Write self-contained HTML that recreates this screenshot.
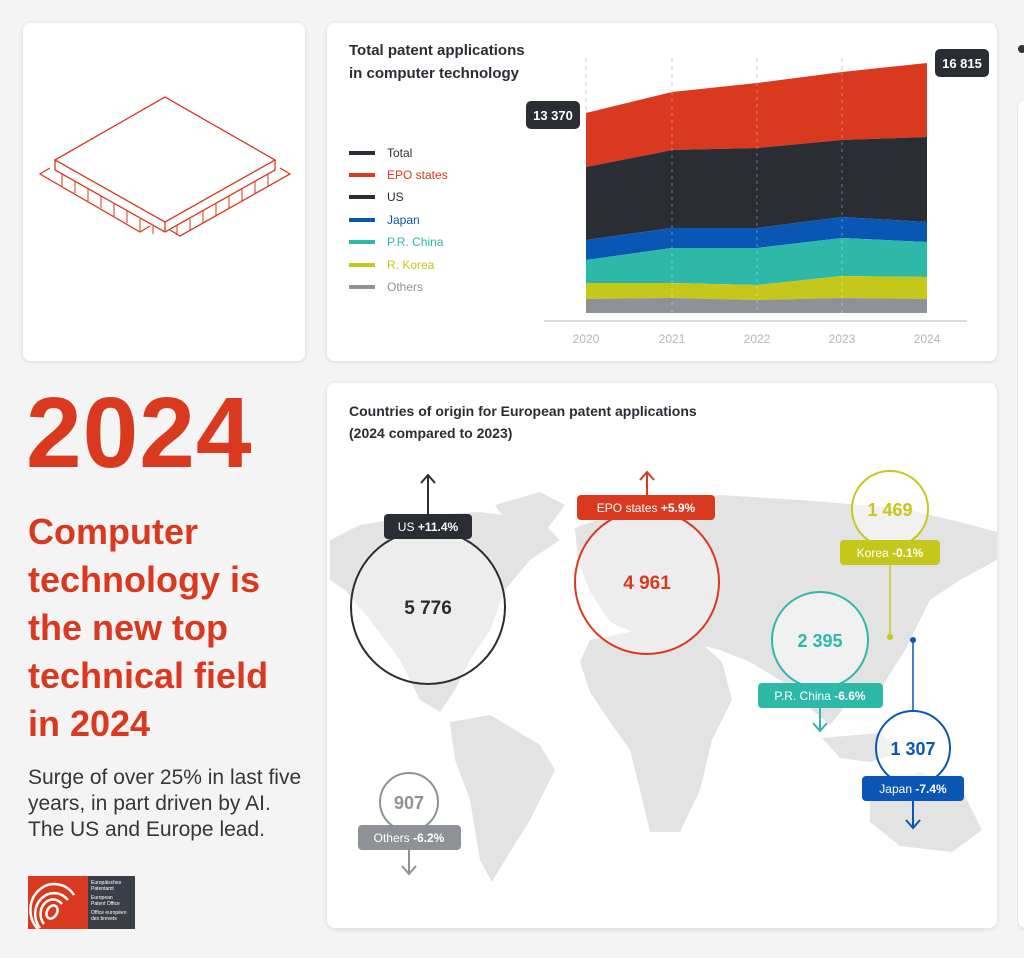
<!DOCTYPE html>
<html><head><meta charset="utf-8"><style>
html,body{margin:0;padding:0;background:#f3f3f3;}
body{width:1024px;height:953px;overflow:hidden;font-family:"Liberation Sans",sans-serif;}
</style></head><body>
<svg width="1024" height="953" viewBox="0 0 1024 953" xmlns="http://www.w3.org/2000/svg" font-family="Liberation Sans, sans-serif">
<defs><filter id="sh" x="-5%" y="-5%" width="110%" height="110%"><feDropShadow dx="0" dy="1" stdDeviation="2" flood-color="#000" flood-opacity="0.12"/></filter></defs>
<rect width="1024" height="953" fill="#f4f4f4"/>
<rect x="23" y="23" width="282" height="338" rx="8" fill="#fff" filter="url(#sh)"/>
<rect x="327" y="23" width="670" height="338" rx="8" fill="#fff" filter="url(#sh)"/>
<rect x="327" y="383" width="670" height="545" rx="8" fill="#fff" filter="url(#sh)"/>
<rect x="1018" y="100" width="20" height="828" rx="8" fill="#fff" filter="url(#sh)"/>
<circle cx="1022" cy="49" r="4" fill="#333"/>

<!-- chip -->
<g fill="none" stroke="#d9391e" stroke-width="1.3">
<polygon points="55,160 165,97 275,160 165,222"/>
<polyline points="55,160 55,170 165,232 275,170 275,160"/>
<line x1="165" y1="222" x2="165" y2="232"/>
<path d="M50,168 l-10,6 l100,58 l10,-6" />
<path d="M280,168 l10,6 l-110,62 l-10,-6"/>
<g stroke-width="1">
<path d="M62,174 v12 M75,181 v12 M88,189 v12 M101,196 v12 M114,204 v12 M127,211 v12 M140,219 v12 M153,226 v8"/>
<path d="M268,174 v12 M255,181 v12 M242,189 v12 M229,196 v12 M216,204 v12 M203,211 v12 M190,219 v12 M177,226 v8"/>
</g>
</g>

<!-- area chart -->
<text x="349" y="55" font-size="15" font-weight="bold" fill="#2a2d33">Total patent applications</text>
<text x="349" y="78" font-size="15" font-weight="bold" fill="#2a2d33">in computer technology</text>
<g font-size="12">
<rect x="349" y="151" width="26" height="4" fill="#2a2d33"/><text x="387" y="157" fill="#2a2d33">Total</text>
<rect x="349" y="173" width="26" height="4" fill="#d9391e"/><text x="387" y="179" fill="#d9391e">EPO states</text>
<rect x="349" y="195" width="26" height="4" fill="#2a2d33"/><text x="387" y="201" fill="#2a2d33">US</text>
<rect x="349" y="218" width="26" height="4" fill="#0a56b5"/><text x="387" y="224" fill="#0a56b5">Japan</text>
<rect x="349" y="240" width="26" height="4" fill="#2eb8a8"/><text x="387" y="246" fill="#2eb8a8">P.R. China</text>
<rect x="349" y="263" width="26" height="4" fill="#c5c81a"/><text x="387" y="269" fill="#c5c81a">R. Korea</text>
<rect x="349" y="285" width="26" height="4" fill="#8e9196"/><text x="387" y="291" fill="#8e9196">Others</text>
</g>
<polygon fill="#d9391e" points="586,113 672,92 757,83 842,72 927,63 927,137 842,140 757,148 672,150 586,167"/>
<polygon fill="#2a2d33" points="586,167 672,150 757,148 842,140 927,137 927,222 842,217 757,228 672,228 586,240"/>
<polygon fill="#0a56b5" points="586,240 672,228 757,228 842,217 927,222 927,242 842,238 757,248 672,248 586,260"/>
<polygon fill="#2eb8a8" points="586,260 672,248 757,248 842,238 927,242 927,277 842,276 757,285 672,283 586,283"/>
<polygon fill="#c5c81a" points="586,283 672,283 757,285 842,276 927,277 927,299 842,298 757,300 672,298 586,299"/>
<polygon fill="#8e9196" points="586,299 672,298 757,300 842,298 927,299 927,313 586,313"/>
<g stroke="#ccc" stroke-dasharray="4,4" stroke-width="1">
<line x1="586" y1="58" x2="586" y2="113"/><line x1="672" y1="58" x2="672" y2="92"/><line x1="757" y1="58" x2="757" y2="83"/><line x1="842" y1="58" x2="842" y2="72"/>
</g>
<g stroke="#fff" stroke-opacity="0.35" stroke-dasharray="3,4"><line x1="672" y1="92" x2="672" y2="313"/><line x1="757" y1="83" x2="757" y2="313"/><line x1="842" y1="72" x2="842" y2="313"/></g>
<line x1="544" y1="321" x2="967" y2="321" stroke="#ddd" stroke-width="2"/>
<g font-size="12" fill="#b5b5b5" text-anchor="middle">
<text x="586" y="343">2020</text><text x="672" y="343">2021</text><text x="757" y="343">2022</text><text x="842" y="343">2023</text><text x="927" y="343">2024</text>
</g>
<rect x="526" y="101" width="54" height="28" rx="5" fill="#2a2d33"/><text x="553" y="120" font-size="13" font-weight="bold" fill="#fff" text-anchor="middle">13 370</text>
<rect x="935" y="49" width="54" height="28" rx="5" fill="#2a2d33"/><text x="962" y="68" font-size="13" font-weight="bold" fill="#fff" text-anchor="middle">16 815</text>

<!-- left texts -->
<text x="26" y="467" font-size="100" font-weight="bold" fill="#d9391e" letter-spacing="1">2024</text>
<g font-size="36" font-weight="bold" fill="#d9391e">
<text x="28" y="544">Computer</text>
<text x="28" y="592">technology is</text>
<text x="28" y="640">the new top</text>
<text x="28" y="688">technical field</text>
<text x="28" y="736">in 2024</text>
</g>
<g font-size="21" fill="#33363b">
<text x="28" y="784">Surge of over 25% in last five</text>
<text x="28" y="810">years, in part driven by AI.</text>
<text x="28" y="836">The US and Europe lead.</text>
</g>
<rect x="28" y="876" width="60" height="53" fill="#d9391e"/>
<rect x="88" y="876" width="47" height="53" fill="#3a3f47"/>
<g fill="none" stroke="#fff" stroke-width="2.5"><ellipse cx="52" cy="912" rx="5" ry="7" transform="rotate(30 52 912)"/><path d="M44,924 a12,14 0 1 1 18,-20"/><path d="M40,928 a18,20 0 1 1 28,-28"/><path d="M38,929 a24,26 0 1 1 36,-34"/></g>
<g font-size="5" fill="#fff"><text x="91" y="884">Europäisches</text><text x="91" y="890">Patentamt</text><text x="91" y="899">European</text><text x="91" y="905">Patent Office</text><text x="91" y="914">Office européen</text><text x="91" y="920">des brevets</text></g>

<!-- map -->
<text x="349" y="416" font-size="14" font-weight="bold" fill="#2a2d33">Countries of origin for European patent applications</text>
<text x="349" y="438" font-size="14" font-weight="bold" fill="#2a2d33">(2024 compared to 2023)</text>
<g fill="#e3e3e3">
<polygon points="330,540 360,525 420,515 480,512 540,520 560,540 530,560 505,590 490,630 470,660 455,690 440,712 420,700 400,660 370,620 345,590 330,580"/>
<polygon points="495,505 540,492 565,505 545,532 510,527"/>
<polygon points="450,722 490,715 540,745 555,770 530,820 505,860 492,882 480,860 470,800 455,760"/>
<polygon points="575,528 640,505 720,495 800,500 900,508 960,522 997,532 997,560 960,580 930,600 905,650 880,690 850,700 830,725 800,700 780,680 750,662 720,650 690,642 650,640 610,622 590,592 578,560"/>
<polygon points="590,640 640,630 700,642 722,662 732,700 712,740 700,790 680,832 650,832 640,790 630,750 610,722 590,692 580,662"/>
<polygon points="870,790 920,772 962,790 982,830 952,852 900,846 870,822"/>
<polygon points="822,738 880,733 902,752 870,762 840,758"/>
</g>
<!-- US -->
<circle cx="428" cy="607" r="77" fill="#fff" fill-opacity="0.35" stroke="#2a2d33" stroke-width="2"/>
<line x1="428" y1="476" x2="428" y2="530" stroke="#2a2d33" stroke-width="2"/><path d="M421,483 l7,-8 l7,8" fill="none" stroke="#2a2d33" stroke-width="2"/>
<rect x="384" y="514" width="88" height="25" rx="4" fill="#2a2d33"/>
<text x="428" y="531" font-size="12" fill="#fff" text-anchor="middle">US  <tspan font-weight="bold">+11.4%</tspan></text>
<text x="428" y="614" font-size="19" font-weight="bold" fill="#2a2d33" text-anchor="middle">5 776</text>
<!-- EPO -->
<circle cx="647" cy="582" r="72" fill="#fff" fill-opacity="0.35" stroke="#d9391e" stroke-width="2"/>
<line x1="647" y1="472" x2="647" y2="510" stroke="#d9391e" stroke-width="2"/><path d="M640,480 l7,-8 l7,8" fill="none" stroke="#d9391e" stroke-width="2"/>
<rect x="577" y="495" width="138" height="25" rx="4" fill="#d9391e"/>
<text x="646" y="512" font-size="12" fill="#fff" text-anchor="middle">EPO states  <tspan font-weight="bold">+5.9%</tspan></text>
<text x="647" y="589" font-size="19" font-weight="bold" fill="#d9391e" text-anchor="middle">4 961</text>
<!-- Korea -->
<circle cx="890" cy="509" r="38" fill="#fff" fill-opacity="0.5" stroke="#c5c81a" stroke-width="2"/>
<line x1="890" y1="560" x2="890" y2="637" stroke="#c5c81a" stroke-width="1.5"/><circle cx="890" cy="637" r="3" fill="#c5c81a"/>
<rect x="840" y="540" width="100" height="25" rx="4" fill="#c5c81a"/>
<text x="890" y="557" font-size="12" fill="#fff" text-anchor="middle">Korea  <tspan font-weight="bold">-0.1%</tspan></text>
<text x="890" y="516" font-size="18" font-weight="bold" fill="#c5c81a" text-anchor="middle">1 469</text>
<!-- China -->
<circle cx="820" cy="640" r="48" fill="#fff" fill-opacity="0.5" stroke="#2eb8a8" stroke-width="2"/>
<rect x="758" y="683" width="125" height="25" rx="4" fill="#2eb8a8"/>
<text x="820" y="700" font-size="12" fill="#fff" text-anchor="middle">P.R. China  <tspan font-weight="bold">-6.6%</tspan></text>
<text x="820" y="647" font-size="18" font-weight="bold" fill="#2eb8a8" text-anchor="middle">2 395</text>
<line x1="820" y1="708" x2="820" y2="731" stroke="#2eb8a8" stroke-width="2"/><path d="M813,723 l7,8 l7,-8" fill="none" stroke="#2eb8a8" stroke-width="2"/>
<!-- Japan -->
<line x1="913" y1="640" x2="913" y2="712" stroke="#0a56b5" stroke-width="1.5"/><circle cx="913" cy="640" r="3" fill="#0a56b5"/>
<circle cx="913" cy="748" r="37" fill="#fff" fill-opacity="0.5" stroke="#0a56b5" stroke-width="2"/>
<rect x="862" y="776" width="102" height="25" rx="4" fill="#0a56b5"/>
<text x="913" y="793" font-size="12" fill="#fff" text-anchor="middle">Japan  <tspan font-weight="bold">-7.4%</tspan></text>
<text x="913" y="755" font-size="18" font-weight="bold" fill="#0a56b5" text-anchor="middle">1 307</text>
<line x1="913" y1="801" x2="913" y2="828" stroke="#0a56b5" stroke-width="2"/><path d="M906,820 l7,8 l7,-8" fill="none" stroke="#0a56b5" stroke-width="2"/>
<!-- Others -->
<circle cx="409" cy="802" r="29" fill="#fff" stroke="#8e9196" stroke-width="2"/>
<text x="409" y="809" font-size="18" font-weight="bold" fill="#8e9196" text-anchor="middle">907</text>
<rect x="358" y="825" width="103" height="25" rx="4" fill="#8e9196"/>
<text x="409" y="842" font-size="12" fill="#fff" text-anchor="middle">Others  <tspan font-weight="bold">-6.2%</tspan></text>
<line x1="409" y1="850" x2="409" y2="874" stroke="#8e9196" stroke-width="2"/><path d="M402,866 l7,8 l7,-8" fill="none" stroke="#8e9196" stroke-width="2"/>
</svg>
</body></html>
